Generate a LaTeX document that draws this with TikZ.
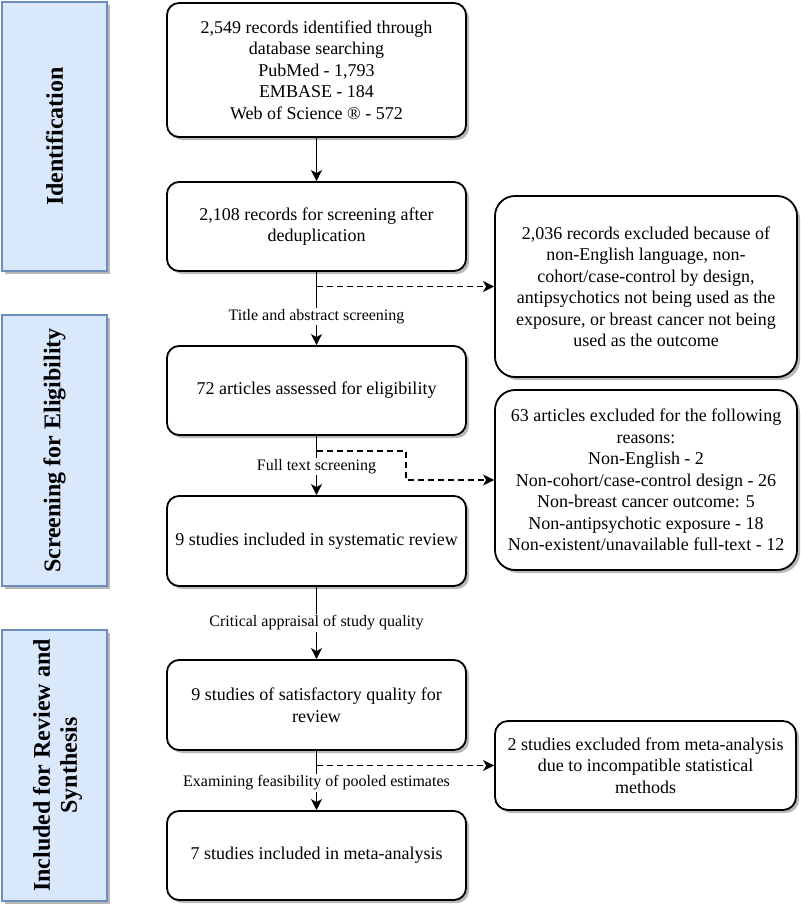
\documentclass[tikz,border=0pt]{standalone}
\usepackage{fontspec}
\setmainfont{Liberation Serif}
\usetikzlibrary{arrows.meta,shadows,calc}
\definecolor{sidefill}{HTML}{DAE8FC}
\definecolor{sidedraw}{HTML}{6C8EBF}
\tikzset{
 shad/.style={drop shadow={shadow xshift=3pt,shadow yshift=-3pt,fill=black!28,opacity=1}},
 side/.style={draw=sidedraw,fill=sidefill,line width=1.4pt,shad,minimum width=105pt,inner sep=0pt},
 sidetext/.style={font=\fontsize{24}{27}\selectfont\bfseries,align=center,inner sep=0pt},
 mainbox/.style={draw,fill=white,line width=1.8pt,rounded corners=12pt,shad,minimum width=299pt,inner sep=0pt,font=\fontsize{18}{21.5}\selectfont,align=center},
 exbox/.style={mainbox,rounded corners=20pt,minimum width=302pt},
 arr/.style={line width=1.7pt,-{Stealth[length=11pt,width=11pt,inset=3pt]}},
 darr/.style={arr,dash pattern=on 6pt off 4pt},
 lab/.style={fill=white,inner sep=1.5pt,font=\fontsize{16}{18}\selectfont},
}
\begin{document}
\begin{tikzpicture}[x=1pt,y=-1pt]
\useasboundingbox (0,0) rectangle (800,907);
% side boxes
\node[side,minimum height=269pt] (id) at (54.5,136.5) {};
\node[sidetext,rotate=90] (idt) at (id.center) {Identification};
\node[side,minimum height=271pt] (sc) at (54.5,450.5) {};
\node[sidetext,rotate=90] (sct) at (sc.center) {Screening for Eligibility};
\node[side,minimum height=271pt] (inc) at (54.5,765.5) {};
\node[sidetext,rotate=90] (inct) at ([xshift=3pt]inc.center) {Included for Review and\\Synthesis};
% main column
\node[mainbox,minimum height=134pt] (b1) at (316.5,70) {2,549 records identified through\\database searching\\PubMed - 1,793\\EMBASE - 184\\Web of Science ® - 572};
\node[mainbox,minimum height=89pt] (b2) at (316.5,226.5) {2,108 records for screening after\\deduplication};
\node[mainbox,minimum height=89pt] (b3) at (316.5,390.5) {72 articles assessed for eligibility};
\node[mainbox,minimum height=90pt] (b4) at (316.5,541) {9 studies included in systematic review};
\node[mainbox,minimum height=90pt] (b5) at (316.5,705) {9 studies of satisfactory quality for\\review};
\node[mainbox,minimum height=89pt] (b6) at (316.5,855.5) {7 studies included in meta-analysis};
% exclusion boxes
\node[exbox,minimum height=181pt] (ex1) at (646,286.5) {2,036 records excluded because of\\non-English language, non-\\cohort/case-control by design,\\antipsychotics not being used as the\\exposure, or breast cancer not being\\used as the outcome};
\node[exbox,minimum height=180pt] (ex2) at (646,480) {63 articles excluded for the following\\reasons:\\Non-English - 2\\Non-cohort/case-control design - 26\\Non-breast cancer outcome: 5\\Non-antipsychotic exposure - 18\\Non-existent/unavailable full-text - 12};
\node[exbox,rounded corners=13pt,minimum width=301pt,minimum height=89pt] (ex3) at (645.5,765.5) {2 studies excluded from meta-analysis\\due to incompatible statistical\\methods};
% connectors
\draw[arr] (b1) -- (b2);
\draw[darr] (b2.south |- ex1.west) -- (ex1.west);
\draw[arr] (b2) -- (b3) node[lab,pos=0.61] (l1) {Title and abstract screening};
\coordinate (k1) at (406,451);
\draw[darr] (k1 -| b3.south) -- (k1) |- (ex2.west);
\draw[arr] (b3) -- (b4) node[lab,pos=0.52] (l2) {Full text screening};
\draw[arr] (b4) -- (b5) node[lab,pos=0.5] (l3) {Critical appraisal of study quality};
\draw[darr] (b5.south |- ex3.west) -- (ex3.west);
\draw[arr] (b5) -- (b6) node[lab,pos=0.54] (l4) {Examining feasibility of pooled estimates};
\end{tikzpicture}
\end{document}
